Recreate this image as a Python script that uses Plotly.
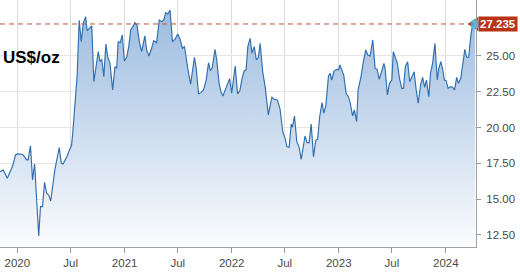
import plotly.graph_objects as go

dates = [
    "2019-11-03", "2019-11-14", "2019-11-28", "2019-12-16", "2019-12-26", "2020-01-01",
    "2020-01-16", "2020-01-21", "2020-02-02", "2020-02-07", "2020-02-15", "2020-02-22",
    "2020-02-29", "2020-03-14", "2020-03-20", "2020-03-27", "2020-04-03", "2020-04-10",
    "2020-04-17", "2020-04-24", "2020-05-08", "2020-05-23", "2020-05-30", "2020-06-05",
    "2020-06-17", "2020-06-26", "2020-07-04", "2020-07-08", "2020-07-19", "2020-07-23",
    "2020-07-30", "2020-08-06", "2020-08-13", "2020-08-21", "2020-08-26", "2020-09-04",
    "2020-09-11", "2020-09-18", "2020-10-03", "2020-10-09", "2020-10-15", "2020-10-22",
    "2020-10-29", "2020-11-04", "2020-11-12", "2020-11-21", "2020-11-29", "2020-12-05",
    "2020-12-10", "2020-12-17", "2020-12-24", "2020-12-31", "2021-01-08", "2021-01-15",
    "2021-01-22", "2021-01-29", "2021-02-05", "2021-02-12", "2021-02-20", "2021-02-28",
    "2021-03-11", "2021-03-17", "2021-03-25", "2021-04-03", "2021-04-10", "2021-04-20",
    "2021-04-29", "2021-05-07", "2021-05-14", "2021-05-21", "2021-05-28", "2021-06-05",
    "2021-06-13", "2021-06-22", "2021-07-01", "2021-07-09", "2021-07-17", "2021-07-24",
    "2021-08-01", "2021-08-06", "2021-08-14", "2021-08-23", "2021-08-27", "2021-09-02",
    "2021-09-10", "2021-09-18", "2021-09-27", "2021-10-06", "2021-10-14", "2021-10-20",
    "2021-10-27", "2021-11-05", "2021-11-11", "2021-11-19", "2021-11-26", "2021-12-02",
    "2021-12-10", "2021-12-19", "2021-12-25", "2022-01-01", "2022-01-06", "2022-01-13",
    "2022-01-21", "2022-01-29", "2022-02-06", "2022-02-13", "2022-02-19", "2022-02-25",
    "2022-03-05", "2022-03-11", "2022-03-19", "2022-03-26", "2022-04-02", "2022-04-08",
    "2022-04-17", "2022-04-25", "2022-05-06", "2022-05-18", "2022-05-26", "2022-06-06",
    "2022-06-15", "2022-06-24", "2022-07-02", "2022-07-08", "2022-07-16", "2022-07-23",
    "2022-07-27", "2022-08-03", "2022-08-11", "2022-08-19", "2022-08-26", "2022-09-03",
    "2022-09-08", "2022-09-15", "2022-09-22", "2022-09-29", "2022-10-07", "2022-10-15",
    "2022-10-21", "2022-10-28", "2022-11-05", "2022-11-11", "2022-11-18", "2022-11-27",
    "2022-12-03", "2022-12-08", "2022-12-16", "2022-12-25", "2022-12-31", "2023-01-05",
    "2023-01-11", "2023-01-18", "2023-01-26", "2023-02-03", "2023-02-09", "2023-02-17",
    "2023-02-23", "2023-03-03", "2023-03-08", "2023-03-18", "2023-03-26", "2023-04-03",
    "2023-04-10", "2023-04-18", "2023-04-27", "2023-05-05", "2023-05-12", "2023-05-19",
    "2023-05-28", "2023-06-04", "2023-06-08", "2023-06-16", "2023-06-23", "2023-07-01",
    "2023-07-06", "2023-07-13", "2023-07-20", "2023-07-27", "2023-08-04", "2023-08-10",
    "2023-08-16", "2023-08-24", "2023-08-31", "2023-09-08", "2023-09-15", "2023-09-22",
    "2023-09-29", "2023-10-07", "2023-10-14", "2023-10-21", "2023-10-27", "2023-11-04",
    "2023-11-10", "2023-11-17", "2023-11-25", "2023-12-03", "2023-12-08", "2023-12-15",
    "2023-12-22", "2023-12-27", "2024-01-02", "2024-01-09", "2024-01-18", "2024-01-24",
    "2024-01-31", "2024-02-07", "2024-02-13", "2024-02-21", "2024-02-28", "2024-03-06",
    "2024-03-12", "2024-03-19", "2024-03-26", "2024-04-02", "2024-04-10",
]

prices = [
    16.92, 17.04, 16.46, 17.32, 18.09, 18.16,
    18.14, 18.09, 17.74, 17.74, 18.72, 16.34,
    17.46, 12.43, 14.48, 14.48, 16.18, 15.41,
    15.29, 14.87, 17.04, 18.60, 17.50, 17.46,
    17.93, 18.32, 18.78, 19.60, 22.60, 23.60,
    27.50, 26.00, 27.28, 27.74, 26.77, 26.93,
    27.10, 23.20, 25.30, 24.60, 24.77, 23.56,
    25.84, 24.95, 24.49, 22.63, 24.25, 24.14,
    26.00, 25.93, 26.47, 24.65, 24.91, 25.65,
    26.86, 27.05, 27.33, 27.16, 26.00, 25.30,
    26.40, 25.42, 25.00, 25.54, 26.07, 25.93,
    27.51, 27.40, 27.51, 28.02, 27.93, 28.21,
    26.00, 26.17, 26.54, 26.17, 25.54, 25.65,
    24.37, 23.90, 23.04, 24.37, 24.91, 24.14,
    22.35, 22.44, 22.63, 23.32, 24.53, 23.97,
    24.21, 25.47, 24.72, 23.09, 22.44, 22.21,
    22.67, 23.09, 23.42, 22.40, 23.32, 24.30,
    22.35, 22.58, 23.51, 23.97, 24.02, 25.65,
    26.23, 25.19, 25.65, 24.72, 24.91, 25.89,
    23.84, 22.86, 20.88, 22.12, 21.98, 21.93,
    21.28, 19.71, 19.25, 18.67, 18.62, 20.25,
    20.02, 20.81, 19.02, 18.62, 17.78, 18.90,
    19.41, 18.95, 18.95, 20.25, 17.97, 19.13,
    19.18, 20.76, 21.74, 21.00, 21.51, 23.60,
    23.79, 23.32, 23.95, 24.07, 24.02, 24.37,
    24.02, 23.67, 22.40, 22.16, 21.74, 20.81,
    21.23, 20.41, 22.63, 23.56, 24.60, 25.42,
    25.07, 25.00, 26.12, 24.14, 24.07, 23.37,
    23.97, 24.49, 24.14, 22.28, 23.09, 23.32,
    25.30, 24.91, 24.49, 23.44, 22.74, 22.74,
    24.25, 24.60, 23.20, 23.56, 23.90, 22.63,
    21.70, 22.97, 23.51, 22.81, 23.32, 22.16,
    23.79, 24.49, 25.89, 23.32, 24.14, 24.60,
    24.02, 23.32, 23.28, 22.74, 22.86, 22.81,
    22.63, 23.51, 23.09, 23.44, 24.49, 25.47,
    24.91, 24.91, 26.35, 27.28, 27.235,
]

tick_dates = ["2020-01-01", "2020-07-01", "2021-01-01", "2021-07-01", "2022-01-01",
              "2022-07-01", "2023-01-01", "2023-07-01", "2024-01-01"]
tick_text = ["2020", "Jul", "2021", "Jul", "2022", "Jul", "2023", "Jul", "2024"]
y_ticks = [12.5, 15.0, 17.5, 20.0, 22.5, 25.0]
y_tick_text = [f"{v:.2f}" for v in y_ticks]
unit_label = "US$/oz"

X_RANGE = ["2019-11-03", "2024-04-13"]
Y_RANGE = [11.66, 28.91]
TICK_FONT = dict(family="Liberation Sans, Arial, sans-serif", size=11.5, color="#4a4a4a")

fig = go.Figure()
fig.add_trace(go.Scatter(
    x=dates, y=prices, mode="lines",
    line=dict(color="#2f6eae", width=1.15),
    fill="tozeroy",
    fillgradient=dict(type="vertical",
                      colorscale=[[0, "rgb(251,252,254)"], [1, "rgb(152,185,222)"]],
                      start=Y_RANGE[0], stop=Y_RANGE[1]),
    hoverinfo="skip", showlegend=False,
))
# end-point dot
fig.add_trace(go.Scatter(
    x=[dates[-1]], y=[prices[-1]], mode="markers",
    marker=dict(size=9, color="#4db5ee", line=dict(width=0)),
    cliponaxis=False, hoverinfo="skip", showlegend=False,
))

last_val = prices[-1]

# dashed reference line at last value
fig.add_shape(type="line", xref="paper", x0=0, x1=1, yref="y", y0=last_val, y1=last_val,
              line=dict(color="#c2563f", width=1, dash="5px,4px"), layer="above")
# pointer of value tag (drawn beneath the traces so the dot sits on top)
fig.add_shape(type="path", xref="paper", yref="y",
              path=f"M 0.9825 {last_val} L 1.0045 {last_val + 0.49} L 1.0045 {last_val - 0.49} Z",
              fillcolor="#b83214", line=dict(width=0), layer="between")

fig.add_annotation(xref="paper", x=1, xanchor="left", xshift=2, yref="y", y=last_val,
                   yanchor="middle", text=f"{last_val:.3f}", showarrow=False,
                   bgcolor="#b83214", borderpad=1,
                   font=dict(family="Liberation Sans, Arial, sans-serif", size=11.5,
                             color="white", weight=700))

fig.add_annotation(xref="paper", x=1 / 476, xanchor="left", yref="paper", y=1 - 57 / 247,
                   yanchor="middle", text=unit_label, showarrow=False,
                   font=dict(family="Liberation Sans, Arial, sans-serif", size=17,
                             color="black", weight=700))

fig.update_layout(
    width=520, height=272,
    margin=dict(l=0, r=44, t=0, b=25),
    paper_bgcolor="white", plot_bgcolor="white",
    showlegend=False,
    xaxis=dict(type="date", range=X_RANGE, tickvals=tick_dates, ticktext=tick_text,
               ticks="outside", ticklen=5, tickcolor="#999999",
               showline=True, linecolor="#a0a0a0", linewidth=1,
               showgrid=True, gridcolor="#dedede", gridwidth=1,
               tickfont=TICK_FONT, zeroline=False),
    yaxis=dict(side="right", range=Y_RANGE, tickvals=y_ticks, ticktext=y_tick_text,
               ticks="outside", ticklen=4, tickcolor="#999999",
               showline=True, linecolor="#a0a0a0", linewidth=1,
               showgrid=True, gridcolor="#e6e6e6", gridwidth=1,
               tickfont=TICK_FONT, zeroline=False, ticklabelstandoff=3),
)

fig.write_html("out.html")
